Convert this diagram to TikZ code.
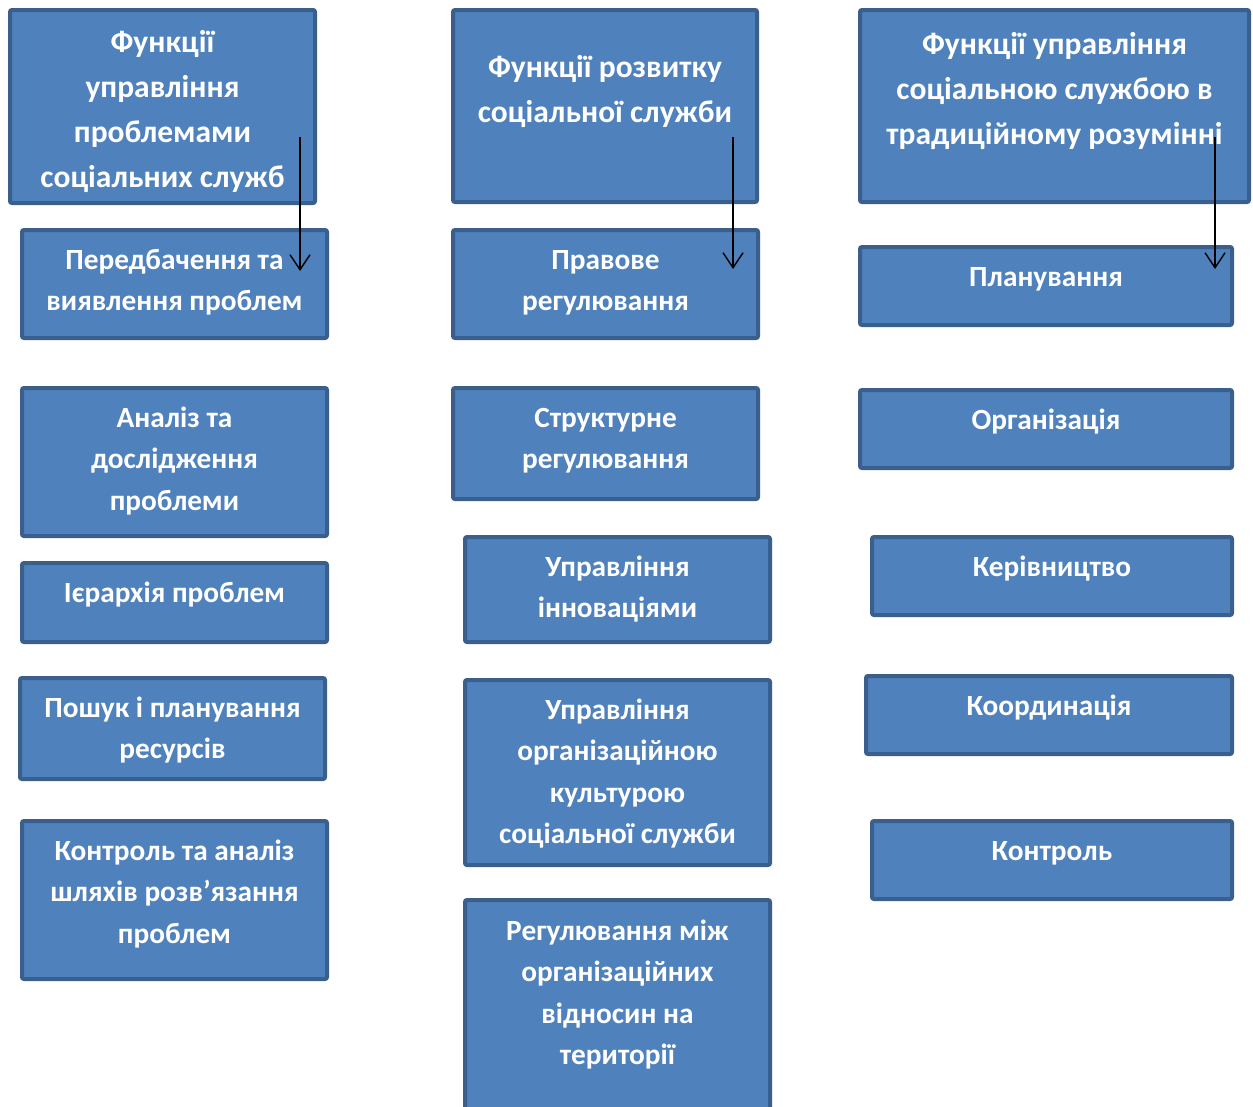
\documentclass[tikz,border=0pt]{standalone}
\usepackage{fontspec}
\setmainfont{Carlito}
\usetikzlibrary{arrows.meta}
\definecolor{boxfill}{HTML}{4F81BD}
\definecolor{boxline}{HTML}{3A5F8C}
\newcommand{\bodytxt}[1]{\parbox[t]{380pt}{\centering\fontsize{29.3}{41.5}\selectfont\bfseries #1}}
\newcommand{\headtxt}[1]{\parbox[t]{420pt}{\centering\fontsize{31.5}{45}\selectfont\bfseries #1}}
\tikzset{
  box/.style={draw=boxline, fill=boxfill, line width=4pt, rounded corners=2pt,
    outer sep=0pt, inner sep=0pt, anchor=north west},
  txt/.style={anchor=base, inner sep=0pt, text=white},
  arr/.style={line width=1.4pt, -{Straight Barb[length=15pt,width=20pt,line width=1.4pt]}}
}
\begin{document}
\begin{tikzpicture}[x=1pt,y=-1pt]
\useasboundingbox (0,0) rectangle (1253,1106);
% left column
\node[box, minimum width=305pt, minimum height=193pt] (L1) at (10,10) {};
\node[box, minimum width=305pt, minimum height=108pt] (L2) at (22,230) {};
\node[box, minimum width=305pt, minimum height=148pt] (L3) at (22,388) {};
\node[box, minimum width=305pt, minimum height=79pt] (L4) at (22,563) {};
\node[box, minimum width=305pt, minimum height=101pt] (L5) at (20,678) {};
\node[box, minimum width=305pt, minimum height=158pt] (L6) at (22,821) {};
% middle column
\node[box, minimum width=304pt, minimum height=192pt] (M1) at (453,10) {};
\node[box, minimum width=305pt, minimum height=108pt] (M2) at (453,230) {};
\node[box, minimum width=305pt, minimum height=111pt] (M3) at (453,388) {};
\node[box, minimum width=305pt, minimum height=105pt] (M4) at (465,537) {};
\node[box, minimum width=305pt, minimum height=185pt] (M5) at (465,680) {};
\node[box, minimum width=305pt, minimum height=240pt] (M6) at (465,900) {};
% right column
\node[box, minimum width=389pt, minimum height=192pt] (R1) at (860,10) {};
\node[box, minimum width=372pt, minimum height=78pt] (R2) at (860,247) {};
\node[box, minimum width=372pt, minimum height=78pt] (R3) at (860,390) {};
\node[box, minimum width=360pt, minimum height=78pt] (R4) at (872,537) {};
\node[box, minimum width=366pt, minimum height=78pt] (R5) at (866,676) {};
\node[box, minimum width=360pt, minimum height=78pt] (R6) at (872,821) {};
% texts
\node[txt, yshift=-42pt] (tL1) at (L1.north) {\headtxt{Функції\\управління\\проблемами\\соціальних служб}};
\node[txt, yshift=-39pt] (tL2) at (L2.north) {\bodytxt{Передбачення та\\виявлення проблем}};
\node[txt, yshift=-39pt] (tL3) at (L3.north) {\bodytxt{Аналіз та\\дослідження\\проблеми}};
\node[txt, yshift=-39pt] (tL4) at (L4.north) {\bodytxt{Ієрархія проблем}};
\node[txt, yshift=-39pt] (tL5) at (L5.north) {\bodytxt{Пошук і планування\\ресурсів}};
\node[txt, yshift=-39pt] (tL6) at (L6.north) {\bodytxt{Контроль та аналіз\\шляхів розв’язання\\проблем}};
\node[txt, yshift=-67pt] (tM1) at (M1.north) {\headtxt{Функції розвитку\\соціальної служби}};
\node[txt, yshift=-39pt] (tM2) at (M2.north) {\bodytxt{Правове\\регулювання}};
\node[txt, yshift=-39pt] (tM3) at (M3.north) {\bodytxt{Структурне\\регулювання}};
\node[txt, yshift=-39pt] (tM4) at (M4.north) {\bodytxt{Управління\\інноваціями}};
\node[txt, yshift=-39pt] (tM5) at (M5.north) {\bodytxt{Управління\\організаційною\\культурою\\соціальної служби}};
\node[txt, yshift=-40pt] (tM6) at (M6.north) {\bodytxt{Регулювання між\\організаційних\\відносин на\\території}};
\node[txt, yshift=-44pt] (tR1) at (R1.north) {\headtxt{Функції управління\\соціальною службою в\\традиційному розумінні}};
\node[txt, yshift=-39pt] (tR2) at (R2.north) {\bodytxt{Планування}};
\node[txt, yshift=-39pt] (tR3) at (R3.north) {\bodytxt{Організація}};
\node[txt, yshift=-39pt] (tR4) at (R4.north) {\bodytxt{Керівництво}};
\node[txt, yshift=-39pt] (tR5) at (R5.north) {\bodytxt{Координація}};
\node[txt, yshift=-39pt] (tR6) at (R6.north) {\bodytxt{Контроль}};
% arrows
\coordinate (a1s) at (300,137); \coordinate (a1e) at (300,271);
\coordinate (a2s) at (733,137); \coordinate (a2e) at (733,269);
\coordinate (a3s) at (1215,137); \coordinate (a3e) at (1215,269);
\draw[arr] (a1s) -- (a1e);
\draw[arr] (a2s) -- (a2e);
\draw[arr] (a3s) -- (a3e);
\end{tikzpicture}
\end{document}
